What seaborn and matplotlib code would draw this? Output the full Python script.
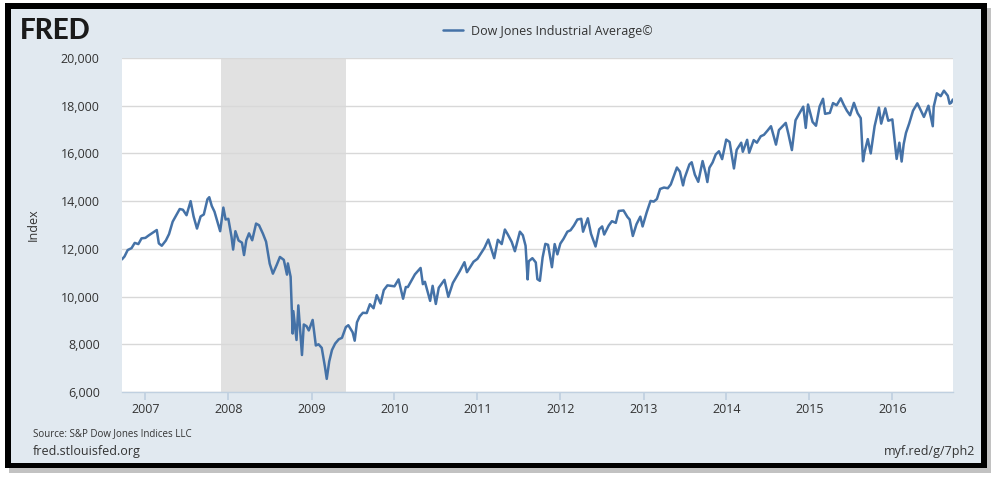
import matplotlib
matplotlib.use("Agg")
import matplotlib.pyplot as plt
from matplotlib.patches import Rectangle
import seaborn as sns
import pandas as pd

# ---- data ----
dates = [
    "2006-09-20", "2006-10-01", "2006-10-15", "2006-11-01", "2006-11-15", "2006-12-01", "2006-12-15",
    "2007-01-01", "2007-01-15", "2007-02-01", "2007-02-20", "2007-03-01", "2007-03-14", "2007-04-01", "2007-04-15",
    "2007-05-01", "2007-05-15", "2007-06-01", "2007-06-15", "2007-07-01", "2007-07-19", "2007-08-01", "2007-08-16",
    "2007-09-01", "2007-09-15", "2007-10-01", "2007-10-09", "2007-10-20", "2007-11-01", "2007-11-26", "2007-12-10",
    "2007-12-20", "2008-01-01", "2008-01-15", "2008-01-22", "2008-02-01", "2008-02-15", "2008-03-01", "2008-03-10",
    "2008-03-20", "2008-04-01", "2008-04-15", "2008-05-02", "2008-05-15", "2008-06-01", "2008-06-15", "2008-07-01",
    "2008-07-15", "2008-08-01", "2008-08-15", "2008-09-01", "2008-09-15", "2008-09-19", "2008-10-01", "2008-10-10",
    "2008-10-13", "2008-10-27", "2008-11-04", "2008-11-20", "2008-11-28", "2008-12-10", "2008-12-20", "2009-01-06",
    "2009-01-20", "2009-02-01", "2009-02-15", "2009-03-01", "2009-03-09", "2009-03-20", "2009-04-01", "2009-04-15",
    "2009-05-01", "2009-05-15", "2009-06-01", "2009-06-12", "2009-07-01", "2009-07-10", "2009-07-20", "2009-08-01",
    "2009-08-15", "2009-09-01", "2009-09-15", "2009-10-01", "2009-10-15", "2009-11-01", "2009-11-15", "2009-12-01",
    "2009-12-15", "2010-01-01", "2010-01-19", "2010-02-08", "2010-02-20", "2010-03-01", "2010-03-15", "2010-04-01",
    "2010-04-26", "2010-05-06", "2010-05-15", "2010-06-07", "2010-06-18", "2010-07-02", "2010-07-15", "2010-08-09",
    "2010-08-26", "2010-09-15", "2010-10-01", "2010-10-15", "2010-11-05", "2010-11-16", "2010-12-01", "2010-12-15",
    "2011-01-01", "2011-01-15", "2011-02-01", "2011-02-18", "2011-03-01", "2011-03-16", "2011-04-01", "2011-04-18",
    "2011-05-02", "2011-05-15", "2011-06-01", "2011-06-15", "2011-07-07", "2011-07-20", "2011-08-01", "2011-08-10",
    "2011-08-15", "2011-08-31", "2011-09-15", "2011-09-22", "2011-10-03", "2011-10-15", "2011-10-27", "2011-11-08",
    "2011-11-25", "2011-12-07", "2011-12-19", "2012-01-01", "2012-01-15", "2012-02-01", "2012-02-15", "2012-03-01",
    "2012-03-16", "2012-04-02", "2012-04-10", "2012-05-01", "2012-05-15", "2012-06-04", "2012-06-20", "2012-07-03",
    "2012-07-12", "2012-08-01", "2012-08-15", "2012-09-01", "2012-09-14", "2012-10-05", "2012-10-22", "2012-11-01",
    "2012-11-15", "2012-12-01", "2012-12-18", "2012-12-28", "2013-01-15", "2013-02-01", "2013-02-15", "2013-03-01",
    "2013-03-15", "2013-04-01", "2013-04-18", "2013-05-01", "2013-05-28", "2013-06-10", "2013-06-24", "2013-07-01",
    "2013-07-22", "2013-08-01", "2013-08-15", "2013-08-30", "2013-09-18", "2013-10-01", "2013-10-09", "2013-10-18",
    "2013-11-01", "2013-11-15", "2013-11-29", "2013-12-13", "2013-12-31", "2014-01-15", "2014-02-03", "2014-02-15",
    "2014-03-07", "2014-03-14", "2014-04-02", "2014-04-11", "2014-05-01", "2014-05-15", "2014-06-01", "2014-06-15",
    "2014-07-01", "2014-07-16", "2014-08-07", "2014-08-20", "2014-09-01", "2014-09-19", "2014-10-01", "2014-10-16",
    "2014-11-01", "2014-11-15", "2014-12-05", "2014-12-16", "2014-12-26", "2015-01-15", "2015-01-30", "2015-02-15",
    "2015-03-02", "2015-03-11", "2015-04-01", "2015-04-15", "2015-05-01", "2015-05-19", "2015-06-01", "2015-06-15",
    "2015-06-29", "2015-07-16", "2015-08-01", "2015-08-15", "2015-08-25", "2015-09-01", "2015-09-15", "2015-09-28",
    "2015-10-15", "2015-11-03", "2015-11-13", "2015-12-01", "2015-12-14", "2016-01-01", "2016-01-20", "2016-02-01",
    "2016-02-11", "2016-02-20", "2016-03-01", "2016-03-15", "2016-04-01", "2016-04-20", "2016-05-01", "2016-05-19",
    "2016-06-08", "2016-06-27", "2016-07-01", "2016-07-15", "2016-08-01", "2016-08-15", "2016-09-01", "2016-09-09",
    "2016-09-16", "2016-09-23",
]
djia = [
    11560, 11680, 11950, 12030, 12250, 12200, 12440,
    12460, 12560, 12670, 12790, 12230, 12130, 12350, 12620,
    13140, 13380, 13670, 13640, 13410, 14000, 13360, 12850,
    13360, 13440, 14080, 14165, 13800, 13560, 12740, 13730,
    13230, 13260, 12500, 11970, 12740, 12350, 12260, 11740,
    12360, 12650, 12360, 13060, 12990, 12640, 12300, 11380,
    10960, 11330, 11660, 11540, 10920, 11390, 10830, 8450,
    9390, 8180, 9630, 7550, 8830, 8760, 8580, 9020,
    7950, 8000, 7850, 7060, 6550, 7280, 7760, 8030,
    8210, 8270, 8720, 8800, 8500, 8150, 8920, 9170,
    9320, 9310, 9680, 9510, 10060, 9710, 10270, 10470,
    10450, 10430, 10720, 9910, 10400, 10400, 10640, 10930,
    11200, 10520, 10620, 9820, 10450, 9690, 10370, 10700,
    9990, 10570, 10830, 11060, 11440, 11020, 11250, 11460,
    11580, 11790, 12040, 12390, 12060, 11610, 12380, 12200,
    12810, 12600, 12290, 11900, 12720, 12570, 12130, 10720,
    11480, 11610, 11430, 10730, 10660, 11640, 12210, 12170,
    11230, 12200, 11770, 12220, 12420, 12720, 12780, 12980,
    13230, 13260, 12720, 13280, 12630, 12100, 12820, 12940,
    12600, 12980, 13160, 13090, 13590, 13610, 13340, 13230,
    12540, 13030, 13350, 12940, 13530, 14010, 13980, 14090,
    14510, 14570, 14540, 14700, 15410, 15240, 14660, 14970,
    15540, 15630, 15110, 14810, 15680, 15190, 14800, 15400,
    15620, 15960, 16090, 15760, 16580, 16480, 15370, 16150,
    16450, 16070, 16570, 16030, 16560, 16450, 16720, 16780,
    16960, 17140, 16370, 16980, 17100, 17280, 16800, 16140,
    17390, 17630, 17960, 17070, 18050, 17320, 17160, 17970,
    18290, 17660, 17700, 18110, 18020, 18310, 18040, 17790,
    17600, 18120, 17690, 17480, 15670, 16060, 16600, 16000,
    17140, 17920, 17250, 17890, 17370, 17425, 15770, 16450,
    15660, 16390, 16860, 17250, 17790, 18100, 17890, 17530,
    18000, 17140, 17950, 18520, 18400, 18630, 18420, 18085,
    18120, 18260,
]
recession_start = "2007-12-01"
recession_end = "2009-06-01"
y_ticks = [6000, 8000, 10000, 12000, 14000, 16000, 18000, 20000]
x_years = [2007, 2008, 2009, 2010, 2011, 2012, 2013, 2014, 2015, 2016]
series_name = "Dow Jones Industrial Average©"

df = pd.DataFrame({"date": pd.to_datetime(dates), "value": djia})

# ---- style ----
sns.set_theme(style="white")
plt.rcParams["font.family"] = ["Open Sans", "DejaVu Sans"]

BG = "#e1e9f0"
LINE = "#4572a7"
TXT = "#333333"

fig = plt.figure(figsize=(9.99, 4.8), dpi=100)
fig.patch.set_facecolor("white")

W, H = 999.0, 480.0
def fx(px): return px / W
def fy(py): return 1 - py / H

# shadow, black frame and light background (behind everything)
for (x0, y0, x1, y1, col, a) in [(9, 8, 991, 473, "#9a9a9a", 0.6),
                                 (5, 3, 987, 468, "black", 1.0),
                                 (11, 9, 981, 463, BG, 1.0)]:
    fig.add_artist(Rectangle((fx(x0), fy(y1)), fx(x1) - fx(x0), fy(y0) - fy(y1),
                             transform=fig.transFigure, facecolor=col, edgecolor="none",
                             alpha=a, zorder=-10))

ax = fig.add_axes([fx(122), fy(392), fx(953) - fx(122), fy(58) - fy(392)])
ax.set_zorder(5)
ax.set_facecolor("white")

ax.axvspan(pd.Timestamp(recession_start), pd.Timestamp(recession_end), color="#e1e1e1", zorder=0, lw=0)

sns.lineplot(data=df, x="date", y="value", ax=ax, color=LINE, linewidth=1.8, label=series_name, zorder=3)

ax.set_ylim(6000, 20000)
ax.set_yticks(y_ticks)
ax.set_yticklabels([f"{v:,}" for v in y_ticks], fontsize=9, color=TXT)
ax.yaxis.grid(True, color="#d8d8d8", linewidth=1)
ax.xaxis.grid(False)
ax.set_axisbelow(True)

ax.set_xlim(pd.Timestamp("2006-09-20"), pd.Timestamp("2016-09-24"))
ax.set_xticks([pd.Timestamp(f"{y}-01-01") for y in x_years])
ax.set_xticklabels([str(y) for y in x_years], fontsize=9, color=TXT)
ax.tick_params(axis="x", length=6, color="#c0d0e0", pad=2, direction="out", bottom=True)
ax.tick_params(axis="y", length=0, pad=16)

for s in ["top", "right", "left"]:
    ax.spines[s].set_visible(False)
ax.spines["bottom"].set_color("#c0d0e0")
ax.spines["bottom"].set_linewidth(1)

ax.set_xlabel("")
ax.set_ylabel("Index", fontsize=9, color=TXT)
ax.yaxis.set_label_coords(-(122 - 40) / (953 - 122), 0.5)

leg = ax.legend(loc="center", bbox_to_anchor=(fx(548), fy(31)), bbox_transform=fig.transFigure,
                frameon=False, fontsize=9, handlelength=1.6, handletextpad=0.6)
for t in leg.get_texts():
    t.set_color(TXT)

# FRED logo text
fig.text(fx(20), fy(31), "FRED", fontsize=20, fontweight=900, color="#1a1a1a",
         va="center", ha="left", family=["Lato", "DejaVu Sans"])

fig.text(fx(33), fy(434), "Source: S&P Dow Jones Indices LLC", fontsize=7, color=TXT, va="center", ha="left")
fig.text(fx(33), fy(452), "fred.stlouisfed.org", fontsize=9, color=TXT, va="center", ha="left")
fig.text(fx(975), fy(452), "myf.red/g/7ph2", fontsize=9, color=TXT, va="center", ha="right")

fig.savefig("out.png", dpi=100, facecolor=fig.get_facecolor())
